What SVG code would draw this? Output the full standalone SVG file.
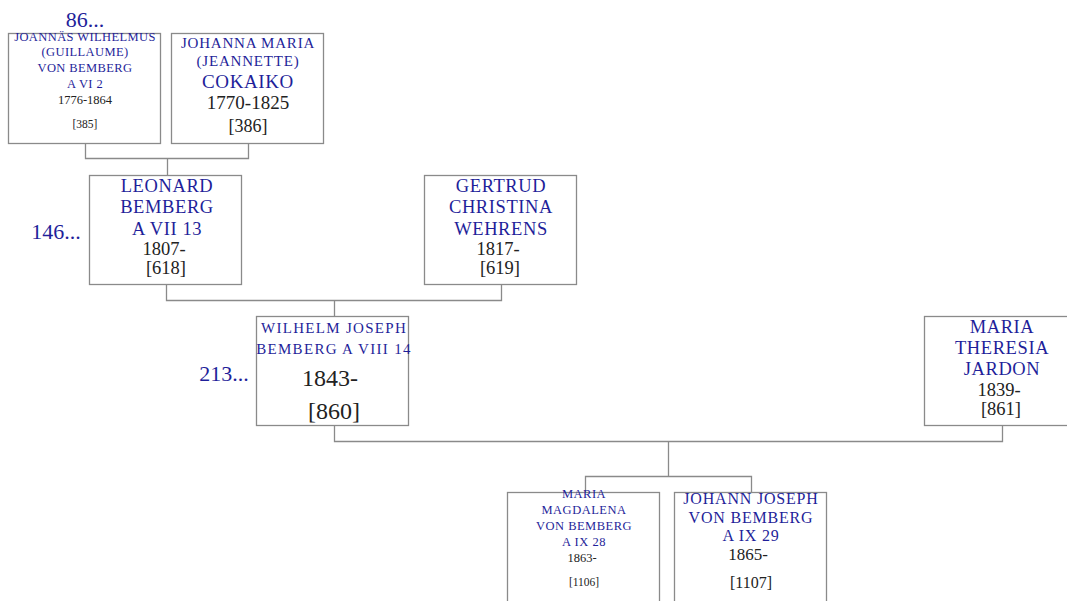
<svg xmlns="http://www.w3.org/2000/svg" width="1067" height="601" viewBox="0 0 1067 601">
<style>
.box{fill:#fff;stroke:#8a8a8a;stroke-width:1.3}
.ln{fill:none;stroke:#8a8a8a;stroke-width:1.3}
text{font-family:"Liberation Serif","DejaVu Serif",serif;text-anchor:middle}
.nm{fill:#1f1f9a}
.yr{fill:#222}
.more{fill:#1f1f9a;font-size:22px}
</style>
<rect width="1067" height="601" fill="#fff"/>
<g id="connectors">
<path class="ln" d="M85.5 143V158.5H248.5V143M167.5 158.5V175"/>
<path class="ln" d="M166.5 284V300.5H501.5V284M334.5 300.5V316"/>
<path class="ln" d="M334.5 425V441.5H1002.5V425M668.5 441.5V476.5M585.5 492V476.5H751.5V492"/>
</g>
<g id="n385">
<rect class="box" x="8.5" y="33.5" width="152" height="110"/>
<text class="nm" font-size="12.5" letter-spacing="0.4"><tspan x="85" y="41">JOANNÄS WILHELMUS</tspan><tspan x="85" y="56">(GUILLAUME)</tspan><tspan x="85" y="72">VON BEMBERG</tspan><tspan x="85" y="88">A VI 2</tspan></text>
<text class="yr" font-size="12.5" x="85" y="104">1776-1864</text>
<text class="yr" font-size="11.5" x="85" y="128">[385]</text>
<text class="more" x="85" y="27">86...</text>
</g>
<g id="n386">
<rect class="box" x="171.5" y="33.5" width="152" height="110"/>
<text class="nm" font-size="15" letter-spacing="0.8"><tspan x="248" y="48">JOHANNA MARIA</tspan><tspan x="248" y="66">(JEANNETTE)</tspan></text>
<text class="nm" font-size="19" letter-spacing="0.6" x="248" y="88">COKAIKO</text>
<text class="yr" font-size="19" x="248" y="109">1770-1825</text>
<text class="yr" font-size="18" x="248" y="132">[386]</text>
</g>
<g id="n618">
<rect class="box" x="89.5" y="175.5" width="152" height="109"/>
<text class="nm" font-size="18.5" letter-spacing="0.6"><tspan x="167" y="192">LEONARD</tspan><tspan x="167" y="213">BEMBERG</tspan><tspan x="167" y="235">A VII 13</tspan></text>
<text class="yr" font-size="18.5"><tspan x="164" y="255">1807-</tspan><tspan x="166" y="274">[618]</tspan></text>
<text class="more" x="56" y="239">146...</text>
</g>
<g id="n619">
<rect class="box" x="424.5" y="175.5" width="152" height="109"/>
<text class="nm" font-size="18.5" letter-spacing="0.6"><tspan x="501" y="192">GERTRUD</tspan><tspan x="501" y="213">CHRISTINA</tspan><tspan x="501" y="235">WEHRENS</tspan></text>
<text class="yr" font-size="18.5"><tspan x="498" y="255">1817-</tspan><tspan x="500" y="274">[619]</tspan></text>
</g>
<g id="n860">
<rect class="box" x="256.5" y="316.5" width="152" height="109"/>
<text class="nm" font-size="15" letter-spacing="1.3"><tspan x="334" y="333">WILHELM JOSEPH</tspan><tspan x="334" y="354">BEMBERG A VIII 14</tspan></text>
<text class="yr" font-size="24"><tspan x="330" y="386">1843-</tspan><tspan x="334" y="419">[860]</tspan></text>
<text class="more" x="224" y="381">213...</text>
</g>
<g id="n861">
<rect class="box" x="924.5" y="316.5" width="152" height="109"/>
<text class="nm" font-size="18.5" letter-spacing="0.6"><tspan x="1002" y="333">MARIA</tspan><tspan x="1002" y="354">THERESIA</tspan><tspan x="1002" y="375">JARDON</tspan></text>
<text class="yr" font-size="18.5"><tspan x="999" y="396">1839-</tspan><tspan x="1001" y="415">[861]</tspan></text>
</g>
<g id="n1106">
<rect class="box" x="507.5" y="492.5" width="152" height="115"/>
<text class="nm" font-size="12.5" letter-spacing="0.5"><tspan x="584" y="498">MARIA</tspan><tspan x="584" y="514">MAGDALENA</tspan><tspan x="584" y="530">VON BEMBERG</tspan><tspan x="584" y="546">A IX 28</tspan></text>
<text class="yr" font-size="12.5" x="582" y="562">1863-</text>
<text class="yr" font-size="11.5" x="584" y="586">[1106]</text>
</g>
<g id="n1107">
<rect class="box" x="674.5" y="492.5" width="152" height="115"/>
<text class="nm" font-size="16" letter-spacing="0.8"><tspan x="751" y="504">JOHANN JOSEPH</tspan><tspan x="751" y="523">VON BEMBERG</tspan><tspan x="751" y="541">A IX 29</tspan></text>
<text class="yr" font-size="17" x="748" y="560">1865-</text>
<text class="yr" font-size="16" x="751" y="588">[1107]</text>
</g>
</svg>
